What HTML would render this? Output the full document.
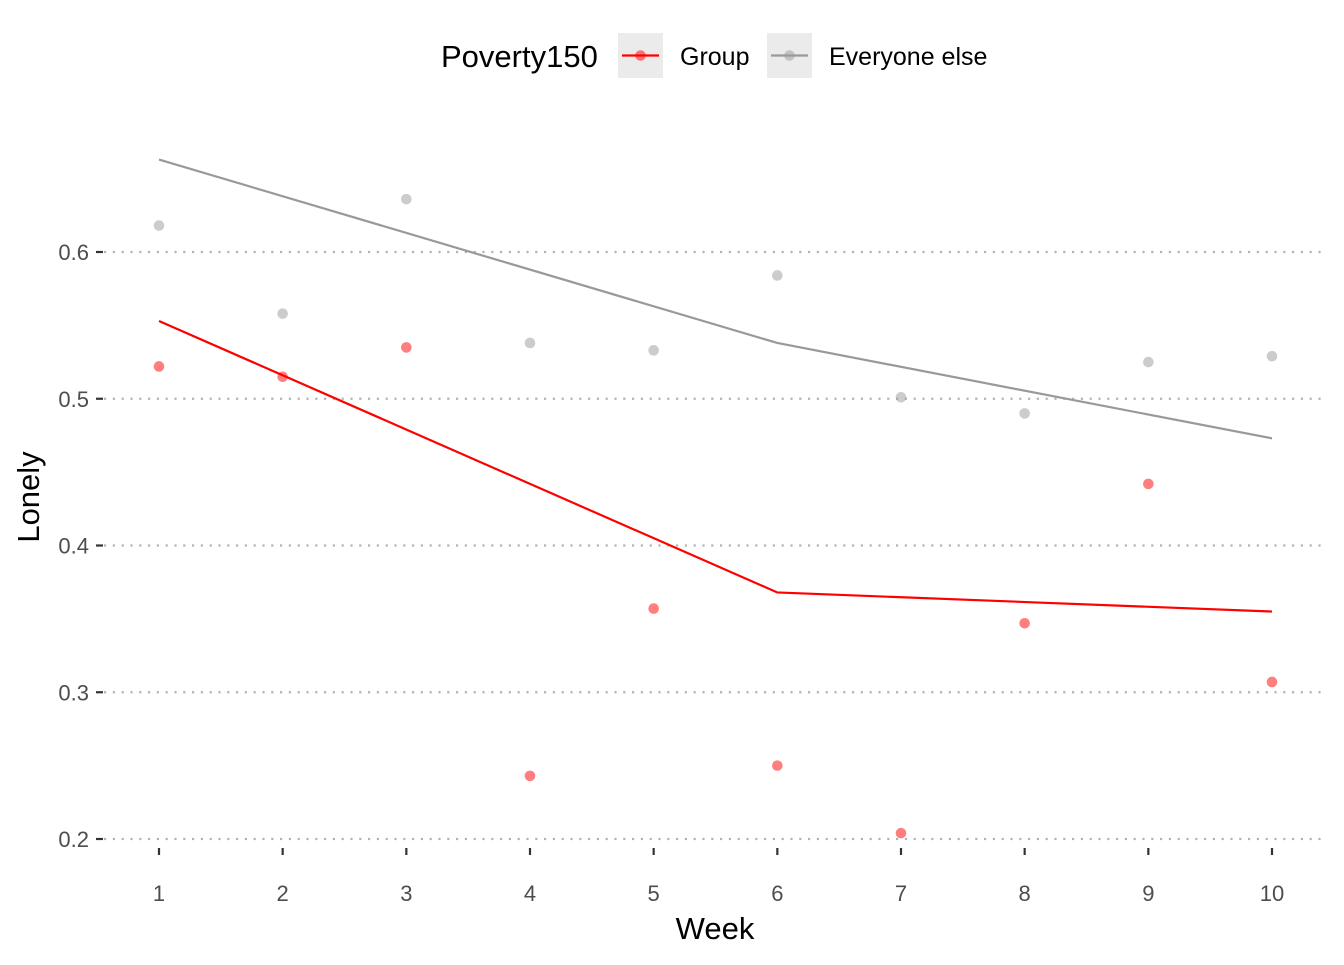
<!DOCTYPE html>
<html><head><meta charset="utf-8"><style>
body{margin:0;background:#fff;}
svg text{font-family:"Liberation Sans",Arial,sans-serif;}
</style></head><body>
<svg id="chart" width="1344" height="960" xmlns="http://www.w3.org/2000/svg">
<g>
<text x="441" y="67" font-size="31" fill="#000">Poverty150</text>
<rect x="618" y="33" width="45" height="45" fill="#ebebeb"/>
<line x1="622" y1="55.5" x2="659" y2="55.5" stroke="#ff0000" stroke-width="2.2"/>
<circle cx="640.5" cy="55.5" r="5.3" fill="#ff0000" fill-opacity="0.5"/>
<text x="680" y="65" font-size="25">Group</text>
<rect x="767" y="33" width="45" height="45" fill="#ebebeb"/>
<line x1="771" y1="55.5" x2="808" y2="55.5" stroke="#999" stroke-width="2.2"/>
<circle cx="789.5" cy="55.5" r="5.3" fill="#999" fill-opacity="0.5"/>
<text x="829" y="65" font-size="25">Everyone else</text>
</g>
<g id="grid"></g><g id="axes"></g><g id="marks"></g>
<text x="715" y="939" font-size="31" text-anchor="middle">Week</text>
<text transform="translate(39,497) rotate(-90)" font-size="31" text-anchor="middle">Lonely</text>
</svg>
<script>
const weeks=[1,2,3,4,5,6,7,8,9,10];
const groupPoints=[0.522,0.515,0.535,0.243,0.357,0.250,0.204,0.347,0.442,0.307];
const otherPoints=[0.618,0.558,0.636,0.538,0.533,0.584,0.501,0.490,0.525,0.529];
const lineWeeks=[1,6,10];
const groupLine=[0.553,0.368,0.355];
const otherLine=[0.663,0.538,0.473];
const yTicks=[0.2,0.3,0.4,0.5,0.6];
const xTicks=[1,2,3,4,5,6,7,8,9,10];
const NS="http://www.w3.org/2000/svg";
const X=w=>159+(w-1)*(1272-159)/9;
const Y=v=>839-(v-0.2)*(839-252)/0.4;
function mk(t,a,p){const e=document.createElementNS(NS,t);for(const k in a)e.setAttribute(k,a[k]);p.appendChild(e);return e;}
const grid=document.getElementById('grid'),axes=document.getElementById('axes'),marks=document.getElementById('marks');
yTicks.forEach(v=>{
 const g=mk('line',{x1:104,x2:1325,y1:Y(v),y2:Y(v),stroke:'#b3b3b3','stroke-width':2.2,'stroke-dasharray':'2.2 6.6'},grid);
 
 
 const t=mk('line',{x1:96,x2:103,y1:Y(v),y2:Y(v),stroke:'#333','stroke-width':2.2},axes);
 
 
 const l=mk('text',{x:89,y:Y(v)+8,'font-size':22,fill:'#4d4d4d','text-anchor':'end'},axes);
 l.textContent=v.toFixed(1);
 
 
});
xTicks.forEach(w=>{
 const t=mk('line',{x1:X(w),x2:X(w),y1:848,y2:855,stroke:'#333','stroke-width':2.2},axes);
 
 
 const l=mk('text',{x:X(w),y:901,'font-size':22,fill:'#4d4d4d','text-anchor':'middle'},axes);
 l.textContent=w;
 
 
});
function line(vals,color,name){
 const p=mk('polyline',{points:lineWeeks.map((w,i)=>X(w)+','+Y(vals[i])).join(' '),fill:'none',stroke:color,'stroke-width':2.2},marks);
 
 
}
function pts(vals,color,name){
 vals.forEach((v,i)=>{
  const c=mk('circle',{cx:X(weeks[i]),cy:Y(v),r:5.3,fill:color,'fill-opacity':0.5},marks);
  
  
 });
}
pts(otherPoints,'#999999','point-everyone-else');
pts(groupPoints,'#ff0000','point-group');
line(otherLine,'#999999','line-everyone-else');
line(groupLine,'#ff0000','line-group');
</script>
</body></html>
